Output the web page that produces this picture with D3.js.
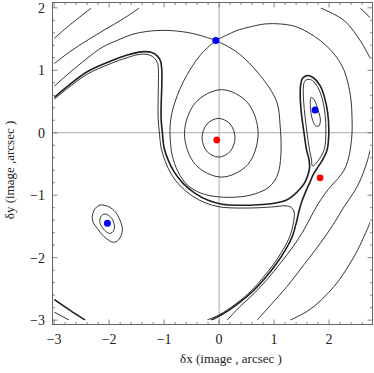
<!DOCTYPE html>
<html>
<head>
<meta charset="utf-8">
<script src="https://cdn.jsdelivr.net/npm/d3@7"></script>
<style>
body { margin: 0; background: #fff; }
svg { display: block; }
.lbl { font-family: "Liberation Serif", "Times New Roman", Times, "DejaVu Serif", serif; font-size: 14px; fill: #222; }
.ttl { font-family: "Liberation Serif", "Times New Roman", Times, "DejaVu Serif", serif; font-size: 13px; fill: #222; }
</style>
</head>
<body>
<svg width="374" height="373"></svg>
<script>
// tick labels
const xTicks = [-3, -2, -1, 0, 1, 2]
const yTicks = [-3, -2, -1, 0, 1, 2]

// image positions (blue) and lens positions (red)
const blueDots = [[-0.06, 1.478], [1.745, 0.362], [-2.031, -1.451]]
const redDots = [[-0.042, -0.116], [1.836, -0.722]]

// contour lines (arcsec)
const topLeft1 = [[-3.0, 1.51], [-2.709, 1.73], [-2.327, 1.995]]
const topLeft2 = [[-3.0, 1.106], [-2.709, 1.3], [-2.4, 1.478], [-2.073, 1.654], [-1.764, 1.813], [-1.455, 1.995]]

// critical contour through the upper saddle
const saddleLeft = [[-3.0, 0.745], [-2.709, 0.968], [-2.4, 1.191], [-2.127, 1.367], [-1.855, 1.478],
  [-1.582, 1.574], [-1.309, 1.622], [-0.945, 1.638], [-0.582, 1.606], [-0.345, 1.558], [-0.06, 1.478]]
const saddleRight = [[-0.06, 1.478], [0.127, 1.558], [0.327, 1.638], [0.564, 1.694], [0.836, 1.742],
  [1.109, 1.742], [1.382, 1.702], [1.618, 1.606], [1.836, 1.478], [2.018, 1.334], [2.164, 1.175],
  [2.273, 0.998], [2.345, 0.793], [2.4, 0.522], [2.418, 0.234], [2.418, -0.005], [2.39, -0.244],
  [2.345, -0.44], [2.273, -0.6], [2.164, -0.73], [2.05, -0.84], [1.93, -0.97], [1.8, -1.14],
  [1.67, -1.345], [1.545, -1.552], [1.345, -1.823], [1.109, -2.094], [0.873, -2.349], [0.636, -2.573],
  [0.382, -2.78], [0.145, -3.0]]
const teardrop = [[-0.06, 1.478], [-0.345, 1.24], [-0.655, 0.809], [-0.836, 0.394], [-0.89, 0.123],
  [-0.89, -0.085], [-0.855, -0.356], [-0.745, -0.627], [-0.58, -0.834], [-0.345, -0.962], [-0.018, -1.026],
  [0.382, -1.026], [0.655, -0.978], [0.89, -0.882], [1.018, -0.754], [1.09, -0.595], [1.127, -0.276],
  [1.109, 0.123], [1.049, 0.494], [0.745, 0.92], [0.322, 1.292], [-0.06, 1.478]]

// rings round the central lens
const ringSmall = [[-0.01, 0.23], [0.2, 0.14], [0.29, -0.08], [0.2, -0.3], [-0.01, -0.39], [-0.22, -0.3], [-0.31, -0.08], [-0.22, 0.14]]
const ringMid = [[0.045, 0.69], [0.52, 0.48], [0.71, -0.015], [0.52, -0.51], [0.045, -0.71], [-0.43, -0.51], [-0.63, -0.015], [-0.43, 0.48]]

// crescent (double line)
const crescentInner = [[-3.0, 0.561], [-2.764, 0.737], [-2.4, 0.976], [-1.982, 1.144], [-1.655, 1.247],
  [-1.418, 1.295], [-1.236, 1.287], [-1.127, 1.231], [-1.064, 1.144], [-1.042, 1.0], [-1.042, 0.761],
  [-1.051, 0.522], [-1.055, 0.234], [-1.031, -0.005], [-1.0, -0.244], [-0.927, -0.435], [-0.818, -0.627],
  [-0.655, -0.81], [-0.436, -0.97], [-0.2, -1.081], [0.055, -1.145], [0.382, -1.161], [0.709, -1.153],
  [1.0, -1.129], [1.218, -1.081], [1.364, -0.994], [1.473, -0.898], [1.555, -0.802], [1.609, -0.691],
  [1.645, -0.563], [1.636, -0.435], [1.591, -0.276], [1.545, -0.005], [1.505, 0.25], [1.478, 0.522],
  [1.482, 0.761], [1.518, 0.872], [1.6, 0.915], [1.709, 0.884], [1.831, 0.761], [1.915, 0.574],
  [1.976, 0.309], [1.995, -0.01], [1.964, -0.276], [1.882, -0.435], [1.8, -0.547], [1.718, -0.659],
  [1.655, -0.786], [1.582, -0.93], [1.509, -1.089], [1.455, -1.249], [1.409, -1.424], [1.336, -1.648],
  [1.209, -1.871], [1.045, -2.094], [0.845, -2.317], [0.609, -2.541], [0.327, -2.748], [0.073, -2.9], [-0.145, -3.0]]
const crescentOuter = [[-3.0, 0.537], [-2.764, 0.705], [-2.4, 0.936], [-1.982, 1.104], [-1.655, 1.207],
  [-1.436, 1.255], [-1.273, 1.247], [-1.173, 1.191], [-1.118, 1.112], [-1.104, 1.0], [-1.104, 0.761],
  [-1.109, 0.522], [-1.109, 0.234], [-1.085, -0.005], [-1.055, -0.244], [-0.982, -0.451], [-0.873, -0.659],
  [-0.709, -0.85], [-0.491, -1.01], [-0.255, -1.121], [0.018, -1.188], [0.382, -1.206], [0.709, -1.201],
  [1.0, -1.185], [1.2, -1.169], [1.309, -1.193], [1.364, -1.265], [1.355, -1.424], [1.291, -1.648],
  [1.164, -1.871], [1.0, -2.094], [0.8, -2.317], [0.573, -2.541], [0.291, -2.748], [0.018, -2.907], [-0.218, -3.0]]

// loops round the right image
const rightLoop = [[1.536, 0.761], [1.564, 0.833], [1.618, 0.856], [1.7, 0.833], [1.8, 0.721], [1.873, 0.553],
  [1.927, 0.298], [1.942, -0.005], [1.915, -0.26], [1.836, -0.402], [1.745, -0.507], [1.696, -0.531],
  [1.682, -0.435], [1.645, -0.276], [1.6, -0.005], [1.564, 0.25], [1.536, 0.522]]
const rightCore = [[1.673, 0.565], [1.733, 0.522], [1.8, 0.362], [1.842, 0.203], [1.813, 0.107], [1.751, 0.115], [1.691, 0.23], [1.66, 0.415]]

// loops round the lower-left image
const leftOuter = [[-2.164, -1.158], [-1.982, -1.196], [-1.849, -1.317], [-1.758, -1.557], [-1.831, -1.716],
  [-1.922, -1.754], [-2.055, -1.691], [-2.195, -1.557], [-2.304, -1.397], [-2.273, -1.238]]
const leftInner = [[-2.073, -1.301], [-1.951, -1.372], [-1.904, -1.531], [-1.969, -1.611], [-2.055, -1.584], [-2.164, -1.451], [-2.151, -1.344]]

// outer contours on the right
const outerRight1 = [[0.691, -3.0], [0.964, -2.732], [1.236, -2.461], [1.545, -2.11], [1.836, -1.775], [2.073, -1.472], [2.273, -1.185], [2.509, -0.866], [2.655, -0.563], [2.75, -0.276]]
const outerRight2 = [[1.291, -3.0], [1.655, -2.828], [2.091, -2.461], [2.455, -1.982], [2.691, -1.552], [2.75, -1.424]]
const topRight1 = [[1.842, 2.0], [2.273, 1.797], [2.564, 1.478], [2.75, 1.191]]
const topRight2 = [[2.569, 1.995], [2.75, 1.84]]

// lower-left corner
const cornerThick = [[-3.0, -2.668], [-2.709, -2.844], [-2.436, -3.0]]
const cornerThin = [[-3.0, -2.871], [-2.727, -3.0]]

let svg = d3.select("svg")
let x = d3.scaleLinear().domain([-3.03, 2.79]).range([52.5, 372.5])
let y = d3.scaleLinear().domain([-3.07, 2.085]).range([324.5, 2.5])

svg.append("clipPath").attr("id", "clip")
  .append("rect")
  .attr("x", x(-3)).attr("y", y(2))
  .attr("width", x(2.75) - x(-3)).attr("height", y(-3) - y(2))

// axes through the origin
svg.append("line").attr("x1", x(0)).attr("x2", x(0)).attr("y1", y.range()[0]).attr("y2", y.range()[1])
  .attr("stroke", "#aaa").attr("stroke-width", 1)
svg.append("line").attr("y1", y(0)).attr("y2", y(0)).attr("x1", x.range()[0]).attr("x2", x.range()[1])
  .attr("stroke", "#aaa").attr("stroke-width", 1)

let openLine = d3.line().x(d => x(d[0])).y(d => y(d[1])).curve(d3.curveCatmullRom.alpha(0.5))
let closedLine = d3.line().x(d => x(d[0])).y(d => y(d[1])).curve(d3.curveCatmullRomClosed.alpha(0.5))

let marks = svg.append("g").attr("clip-path", "url(#clip)")
  .attr("fill", "none").attr("stroke", "#1e1e1e").attr("stroke-linejoin", "round")

let thin = [topLeft1, topLeft2, saddleLeft, saddleRight, teardrop, crescentOuter,
  outerRight1, outerRight2, topRight1, topRight2, cornerThin]
let thick = [crescentInner, cornerThick]
let loops = [ringSmall, ringMid, rightLoop, rightCore, leftOuter, leftInner]

marks.selectAll(".thin").data(thin).enter().append("path")
  .attr("d", openLine).attr("stroke-width", 0.9)
marks.selectAll(".thick").data(thick).enter().append("path")
  .attr("d", openLine).attr("stroke-width", 1.6)
marks.selectAll(".loop").data(loops).enter().append("path")
  .attr("d", closedLine).attr("stroke-width", 0.9)

// points
svg.selectAll(".blue").data(blueDots).enter().append("circle")
  .attr("cx", d => x(d[0])).attr("cy", d => y(d[1])).attr("r", 3.5).attr("fill", "#0000ff")
svg.selectAll(".red").data(redDots).enter().append("circle")
  .attr("cx", d => x(d[0])).attr("cy", d => y(d[1])).attr("r", 3.4).attr("fill", "#ff0000")

// frame
let x0 = x.range()[0], x1 = x.range()[1], y0 = y.range()[1], y1 = y.range()[0]
svg.append("rect").attr("x", x0).attr("y", y0).attr("width", x1 - x0).attr("height", y1 - y0)
  .attr("fill", "none").attr("stroke", "#666").attr("stroke-width", 1)

// ticks on all four sides
let ticks = svg.append("g").attr("stroke", "#666").attr("stroke-width", 0.8)
let minorX = d3.range(-3, 2.8, 0.2).map(v => Math.round(v * 10) / 10)
let minorY = d3.range(-3, 2.1, 0.2).map(v => Math.round(v * 10) / 10)
minorX.forEach(v => {
  let len = Number.isInteger(v) ? 5 : 2.5
  ticks.append("line").attr("x1", x(v)).attr("x2", x(v)).attr("y1", y1).attr("y2", y1 - len)
  ticks.append("line").attr("x1", x(v)).attr("x2", x(v)).attr("y1", y0).attr("y2", y0 + len)
})
minorY.forEach(v => {
  let len = Number.isInteger(v) ? 5 : 2.5
  ticks.append("line").attr("y1", y(v)).attr("y2", y(v)).attr("x1", x0).attr("x2", x0 + len)
  ticks.append("line").attr("y1", y(v)).attr("y2", y(v)).attr("x1", x1).attr("x2", x1 - len)
})

let fmt = v => (v < 0 ? "\u2212" + (-v) : "" + v)

svg.selectAll(".xl").data(xTicks).enter().append("text")
  .attr("class", "lbl").attr("x", d => x(d)).attr("y", 339).attr("dy", "0.35em")
  .attr("text-anchor", "middle").text(fmt)
svg.selectAll(".yl").data(yTicks).enter().append("text")
  .attr("class", "lbl").attr("x", 45).attr("y", d => y(d)).attr("dy", "0.35em")
  .attr("text-anchor", "end").text(fmt)

// axis titles
svg.append("text").attr("class", "ttl").attr("x", 231).attr("y", 358).attr("dy", "0.35em")
  .attr("text-anchor", "middle").text("\u03b4x (image , arcsec )")
svg.append("text").attr("class", "ttl").attr("transform", "translate(9,170) rotate(-90)")
  .attr("dy", "0.35em").attr("text-anchor", "middle").text("\u03b4y (image ,arcsec )")
</script>
</body>
</html>
